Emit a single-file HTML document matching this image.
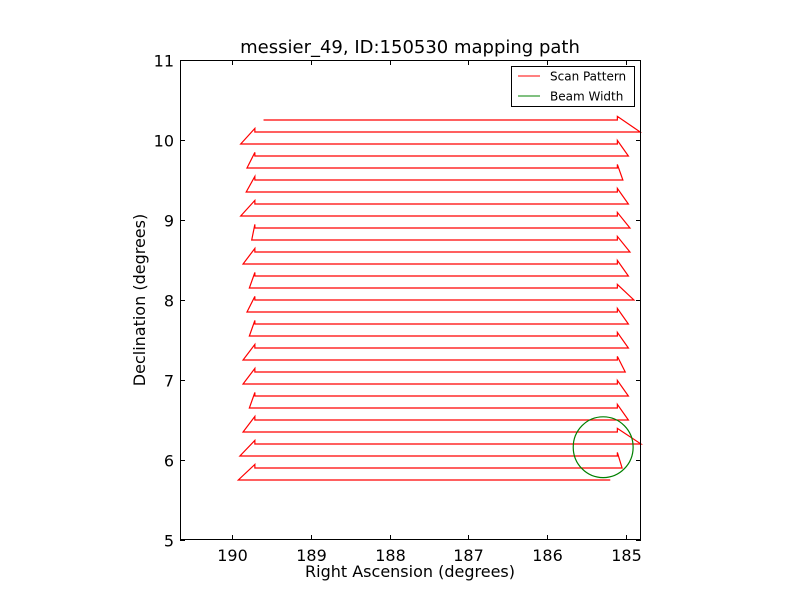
<!DOCTYPE html>
<html><head><meta charset="utf-8"><style>
body{margin:0;background:#fff;}
svg{display:block;font-family:"DejaVu Sans","Liberation Sans",sans-serif;}
</style></head><body>
<svg id="chart" width="800" height="600">
<rect width="800" height="600" fill="#fff"/>
<text x="410" y="53" font-size="18" text-anchor="middle">messier_49, ID:150530 mapping path</text>
<g id="plot"></g>
<text x="410" y="577" font-size="16" text-anchor="middle">Right Ascension (degrees)</text>
<text transform="translate(145,300) rotate(-90)" font-size="16" text-anchor="middle">Declination (degrees)</text>
<g>
<rect x="511.5" y="66.5" width="123" height="40" fill="#fff" stroke="#000"/>
<line x1="518" y1="76" x2="540" y2="76" stroke="red"/>
<text x="550" y="80.5" font-size="12">Scan Pattern</text>
<line x1="518" y1="96" x2="540" y2="96" stroke="green"/>
<text x="550" y="100.5" font-size="12">Beam Width</text>
</g>
</svg>
<script>
const xTicks=[190,189,188,187,186,185];
const yTicks=[5,6,7,8,9,10,11];
const rowDec=[10.25,10.10,9.95,9.80,9.65,9.50,9.35,9.20,9.05,8.90,8.75,8.60,8.45,8.30,8.15,8.00,7.85,7.70,7.55,7.40,7.25,7.10,6.95,6.80,6.65,6.50,6.35,6.20,6.05,5.90,5.75];
const rowStartRA=[189.60,184.82,189.89,184.97,189.81,185.04,189.82,184.97,189.89,184.95,189.75,184.95,189.86,184.97,189.78,184.90,189.81,184.97,189.78,184.97,189.86,185.01,189.86,184.97,189.78,184.97,189.86,184.81,189.90,185.05,189.92];
const rowEndRA=[185.11,189.71,185.11,189.71,185.11,189.71,185.11,189.71,185.11,189.71,185.11,189.71,185.11,189.71,185.11,189.71,185.11,189.71,185.11,189.71,185.11,189.71,185.11,189.71,185.11,189.71,185.11,189.71,185.11,189.71,185.20];
const beamRA=185.29, beamDec=6.16, beamRadius=0.38;

const X0=180,X1=641,Y0=60,Y1=540;
const xMin=190.66,xMax=184.81,yMin=5,yMax=11;
function sx(v){return X0+(v-xMin)/(xMax-xMin)*(X1-X0);}
function sy(v){return Y1-(v-yMin)/(yMax-yMin)*(Y1-Y0);}
const NS="http://www.w3.org/2000/svg";
const svg=document.getElementById('chart');
const plot=document.getElementById('plot');
function mk(t,a,p){const e=document.createElementNS(NS,t);for(const k in a)e.setAttribute(k,a[k]);(p||plot).appendChild(e);return e;}

// path
let pts=[];
for(let i=0;i<rowDec.length;i++){
  pts.push([sx(rowStartRA[i]),sy(rowDec[i])]);
  pts.push([sx(rowEndRA[i]),sy(rowDec[i])]);
  if(i<rowDec.length-1) pts.push([sx(rowEndRA[i]),sy(rowDec[i]+0.045)]);
}
const path=mk('polyline',{points:pts.map(p=>p.join(',')).join(' '),fill:'none',stroke:'red','stroke-width':1.2,'stroke-linejoin':'miter'});



const beam=mk('ellipse',{cx:sx(beamRA),cy:sy(beamDec),rx:Math.abs(sx(beamRA+beamRadius)-sx(beamRA)),ry:Math.abs(sy(beamDec+beamRadius)-sy(beamDec)),fill:'none',stroke:'green','stroke-width':1.2});



const frame=mk('rect',{x:X0+0.5,y:Y0+0.5,width:X1-X0-1,height:Y1-Y0-1,fill:'none',stroke:'#000'});



xTicks.forEach(v=>{
  const x=Math.round(sx(v))+0.5;
  mk('line',{x1:x,y1:Y1,x2:x,y2:Y1-5,stroke:'#000'});
  mk('line',{x1:x,y1:Y0,x2:x,y2:Y0+5,stroke:'#000'});
  const t=mk('text',{x:x,y:Y1+21,'font-size':16,'text-anchor':'middle'});
  t.textContent=v;
  
  
});
yTicks.forEach(v=>{
  const y=Math.round(sy(v))+0.5;
  mk('line',{x1:X0,y1:y,x2:X0+5,y2:y,stroke:'#000'});
  mk('line',{x1:X1,y1:y,x2:X1-5,y2:y,stroke:'#000'});
  const t=mk('text',{x:X0-6,y:y+6,'font-size':16,'text-anchor':'end'});
  t.textContent=v;
  
  
});
</script>
</body></html>
